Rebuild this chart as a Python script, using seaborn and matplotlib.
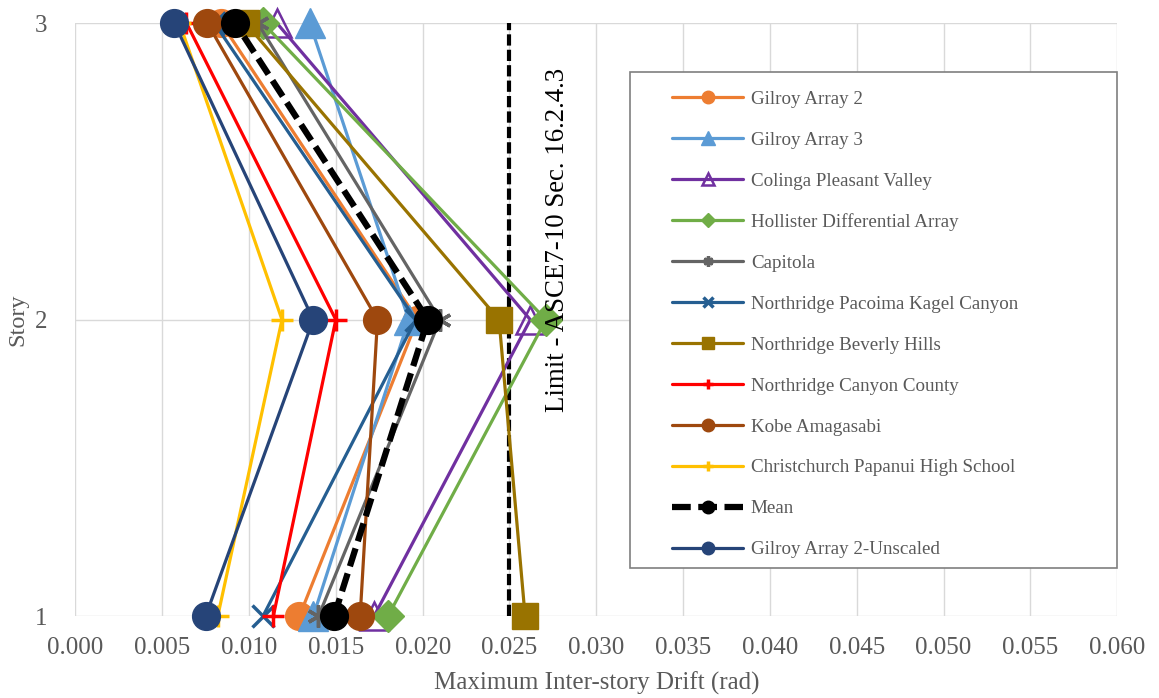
import numpy as np
import pandas as pd
import matplotlib
matplotlib.use('Agg')
import matplotlib.pyplot as plt
from matplotlib.patches import Rectangle
import seaborn as sns

sns.set_theme(style="whitegrid")
plt.rcParams['font.family'] = ['Liberation Serif', 'DejaVu Serif']

# Story levels and drift values (rad) for each record
stories = [1, 2, 3]
gilroy2 = [0.0129, 0.0197, 0.0084]
gilroy3 = [0.0137, 0.0192, 0.0135]
colinga = [0.0172, 0.0262, 0.0116]
hollister = [0.0180, 0.0271, 0.0108]
capitola = [0.0140, 0.0210, 0.0105]
pacoima = [0.0108, 0.0196, 0.0080]
beverly = [0.0259, 0.0244, 0.0098]
canyon = [0.0114, 0.0150, 0.0064]
kobe = [0.0164, 0.0174, 0.0076]
christchurch = [0.0082, 0.0119, 0.0060]
mean = [0.0149, 0.0203, 0.0092]
gilroy2_unscaled = [0.0075, 0.0137, 0.0057]
limit = 0.025

series = [
    ('Gilroy Array 2', gilroy2, '#ED7D31', 'o', 'full', 20),
    ('Gilroy Array 3', gilroy3, '#5B9BD5', '^', 'full', 22),
    ('Colinga Pleasant Valley', colinga, '#7030A0', '^', 'none', 20),
    ('Hollister Differential Array', hollister, '#70AD47', 'D', 'full', 16),
    ('Capitola', capitola, '#646464', (6, 2, 0), 'full', 16),
    ('Northridge Pacoima Kagel Canyon', pacoima, '#255E91', 'x', 'full', 16),
    ('Northridge Beverly Hills', beverly, '#997300', 's', 'full', 19),
    ('Northridge Canyon County', canyon, '#FF0000', '+', 'full', 16),
    ('Kobe Amagasabi', kobe, '#9E480E', 'o', 'full', 20),
    ('Christchurch Papanui High School', christchurch, '#FFC000', '+', 'full', 16),
    ('Mean', mean, 'black', 'o', 'full', 20),
    ('Gilroy Array 2-Unscaled', gilroy2_unscaled, '#264478', 'o', 'full', 20),
]

fig, ax = plt.subplots(figsize=(11.59, 6.98), dpi=100)

for name, vals, color, mk, fill, ms in series:
    df = pd.DataFrame({'drift': vals, 'story': stories})
    kw = dict(marker=mk, markersize=ms, markeredgecolor=color, clip_on=False)
    if fill == 'none':
        kw['markerfacecolor'] = 'none'
        kw['markeredgewidth'] = 1.8
    else:
        kw['markerfacecolor'] = color
        kw['markeredgewidth'] = 2.5 if mk in ('x', '+') or isinstance(mk, tuple) else 1
    if name == 'Mean':
        sns.lineplot(data=df, x='drift', y='story', sort=False, estimator=None,
                     color=color, linewidth=4.5, ax=ax, label=name,
                     linestyle=(0, (3, 1.2)), **kw)
    else:
        sns.lineplot(data=df, x='drift', y='story', sort=False, estimator=None,
                     color=color, linewidth=2.3, ax=ax, label=name, **kw)

ax.axvline(limit, color='black', linestyle=(0, (2.7, 1)), linewidth=3, zorder=1)
ax.text(0.02775, 2.268, 'Limit - ASCE7-10 Sec. 16.2.4.3', rotation=90,
        ha='center', va='center', fontsize=19.4, color='black', zorder=4)

ax.set_xlim(0, 0.06)
ax.set_ylim(1, 3)
ax.set_xticks(np.arange(0, 0.0601, 0.005))
ax.set_xticklabels([f'{v:.3f}' for v in np.arange(0, 0.0601, 0.005)])
ax.set_yticks(stories)
ax.tick_params(axis='x', labelsize=18, labelcolor='#595959', length=0, pad=15)
ax.tick_params(axis='y', labelsize=18, labelcolor='#595959', length=0, pad=20)
ax.set_xlabel('Maximum Inter-story Drift (rad)', fontsize=18, color='#595959', labelpad=9)
ax.set_ylabel('Story', fontsize=17.5, color='#595959', labelpad=5)
ax.grid(True, color='#D9D9D9', linewidth=1)
ax.set_facecolor('white')
for s in ax.spines.values():
    s.set_visible(False)

# legend frame drawn separately so the entries can sit with a wide left margin
ax.add_patch(Rectangle((0.5326, 0.081), 0.4674, 0.836, transform=ax.transAxes,
                       facecolor='white', edgecolor='#7F7F7F', linewidth=1.2,
                       zorder=5, clip_on=False))
leg = ax.legend(loc='upper left', bbox_to_anchor=(0.573, 0.8865), fontsize=13.7,
                markerscale=0.45, handlelength=3.7, labelspacing=1.24,
                borderpad=0, handletextpad=0.42, borderaxespad=0,
                frameon=False)
leg.set_zorder(6)
for t in leg.get_texts():
    t.set_color('#595959')

fig.subplots_adjust(left=0.065, right=0.964, top=0.967, bottom=0.117)
fig.savefig('out.png', dpi=100)
